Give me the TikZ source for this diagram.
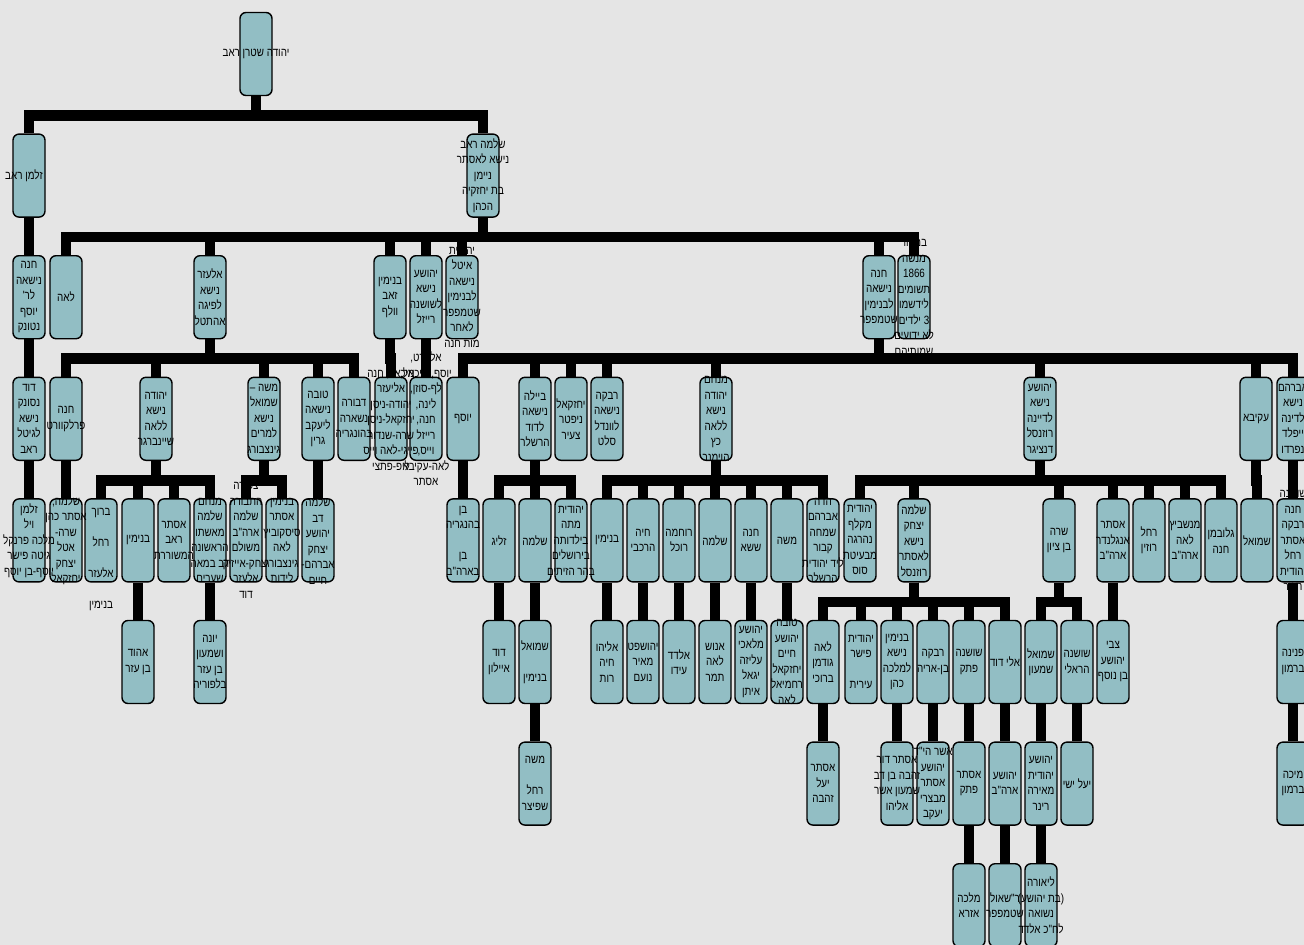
\documentclass[tikz,border=0pt]{standalone}
\usepackage{fontspec}
\newfontfamily\heb[Script=Hebrew,FakeStretch=0.82]{Liberation Sans}
\TeXXeTstate=1
\usetikzlibrary{backgrounds}
\definecolor{bgc}{RGB}{229,229,229}
\definecolor{boxc}{RGB}{146,190,196}
\pgfdeclarelayer{boxes}
\pgfsetlayers{background,boxes,main}
\newcommand{\rl}[1]{\beginR #1\endR}
\newcommand{\pn}[5][]{%
  \begin{pgfonlayer}{boxes}\node[pbox] (#2) at (#3,{54+121.6*#4}) {};\end{pgfonlayer}
  \node[ptext,#1] (#2t) at (#2.center) {#5};}
\begin{document}
\begin{tikzpicture}[x=1pt,y=-1pt,
  pbox/.style={draw=black, line width=1.4pt, fill=boxc, rounded corners=6pt,
    minimum width=32pt, minimum height=83pt, inner sep=0pt},
  ptext/.style={align=center, inner sep=0pt, text=black,
    font=\heb\fontsize{12}{15.5}\selectfont},
  conn/.style={line width=10.5pt, draw=black}]
\useasboundingbox (0,0) rectangle (1304,945);
% row 0
\pn{root}{256}{0}{\rl{יהודה שטרן ראב}}
% row 1
\pn[xshift=-5pt]{zalman}{29}{1}{\rl{זלמן ראב}}
\pn{shlomo}{483}{1}{\rl{שלמה ראב}\\\rl{נישא לאסתר}\\\rl{ניימן}\\\rl{בת יחזקיה}\\\rl{הכהן}}
% row 2
\pn{hanaA}{29}{2}{\rl{חנה}\\\rl{נישאה}\\\rl{לר'}\\\rl{יוסף}\\\rl{נטונק}}
\pn{lea}{66}{2}{\rl{לאה}}
\pn{elazar}{210}{2}{\rl{אלעזר}\\\rl{נישא}\\\rl{לפיגה}\\\rl{אהתטל}}
\pn{binyamin}{390}{2}{\rl{בנימין}\\\rl{זאב}\\\rl{וולף}}
\pn{yehoshua}{426}{2}{\rl{יהושע}\\\rl{נישא}\\\rl{לשושנה}\\\rl{רייזל}}
\pn{yehudit}{462}{2}{\rl{יהודית}\\\rl{איטל}\\\rl{נישאה}\\\rl{לבנימין}\\\rl{שטמפפר}\\\rl{לאחר}\\\rl{מות חנה}}
\pn{hanaB}{879}{2}{\rl{חנה}\\\rl{נישאה}\\\rl{לבנימין}\\\rl{שטמפפר}}
\pn{menashe}{914}{2}{\rl{במקור}\\\rl{מנשה}\\1866\\\rl{תשומים}\\\rl{לידשמו}\\\rl{3 ילדים}\\\rl{לא ידועים}\\\rl{שמותיהם}}
% row 3
\pn{david}{29}{3}{\rl{דוד}\\\rl{נסונק}\\\rl{נישא}\\\rl{לגיטל}\\\rl{ראב}}
\pn{hanaP}{66}{3}{\rl{חנה}\\\rl{פרלקוורט}}
\pn{yehuda}{156}{3}{\rl{יהודה}\\\rl{נישא}\\\rl{ללאה}\\\rl{שיינברגר}}
\pn{moshe}{264}{3}{\rl{משה –}\\\rl{שמואל}\\\rl{נישא}\\\rl{למרים}\\\rl{גינצבורג}}
\pn{tova}{318}{3}{\rl{טובה}\\\rl{נישאה}\\\rl{ליעקב}\\\rl{גרין}}
\pn{dvora}{354}{3}{\rl{דבורה}\\\rl{נשארה}\\\rl{בהונגריה}}
\pn{bchild}{391}{3}{\rl{מיכאל, חנה}\\\rl{אליעזר}\\\rl{יהודה-ניסן}\\\rl{יחזקאל-ניסן}\\\rl{שרה-שנדור}\\\rl{פייגי-לאה וייס}\\\rl{ליפ-פתצי}}
\pn{ychild}{426}{3}{\rl{אלברט,}\\\rl{יוסף, מיכאל,}\\\rl{לף-סוזן,}\\\rl{לינה,}\\\rl{חנה,}\\\rl{רייזל}\\\rl{וייס,}\\\rl{לאה-עקיבא}\\\rl{אסתר}}
\pn{yosef}{463}{3}{\rl{יוסף}}
\pn{beila}{535}{3}{\rl{ביילה}\\\rl{נישאה}\\\rl{לדוד}\\\rl{הרשלר}}
\pn{yehezkel}{571}{3}{\rl{יחזקאל}\\\rl{ניפטר}\\\rl{צעיר}}
\pn{rivka}{607}{3}{\rl{רבקה}\\\rl{נישאה}\\\rl{לוונדל}\\\rl{סלט}}
\pn{menahem}{716}{3}{\rl{מנחם}\\\rl{יהודה}\\\rl{נישא}\\\rl{ללאה}\\\rl{כץ}\\\rl{הוימנר}}
\pn{yehoshuaB}{1040}{3}{\rl{יהושע}\\\rl{נישא}\\\rl{לדיינה}\\\rl{רוזנסל}\\\rl{דנציגר}}
\pn{akiva}{1256}{3}{\rl{עקיבא}}
\pn{avraham}{1293}{3}{\rl{אברהם}\\\rl{נישא}\\\rl{לדינה}\\\rl{ייפלד}\\\rl{נפרדו}}
% row 4
\pn{zalmanV}{29}{4}{\rl{זלמן}\\\rl{ויל}\\\rl{מלכה פרנקל}\\\rl{גיטה פישר}\\\rl{יוסף-בן יוסף}}
\pn{shlomoA}{66}{4}{\rl{שלמה,}\\\rl{אסתר כהן}\\\rl{שרה-}\\\rl{אטל}\\\rl{יצחק}\\\rl{יחזקאל}}
\pn[yshift=-19pt]{baruch}{101}{4}{\rl{ברוך}\\\mbox{}\\\rl{רחל}\\\mbox{}\\\rl{אלעזר}\\\mbox{}\\\rl{בנימין}}
\pn{binyaminB}{138}{4}{\rl{בנימין}}
\pn{esterR}{174}{4}{\rl{אסתר}\\\rl{ראב}\\\rl{המשוררת}}
\pn{menahemS}{210}{4}{\rl{מנחם}\\\rl{שלמה}\\\rl{מאשתו}\\\rl{הראשונה}\\\rl{דב במאה}\\\rl{שערים}}
\pn{tsipora}{246}{4}{\rl{צפורה}\\\rl{התבורה}\\\rl{שלמה}\\\rl{ארה"ב}\\\rl{משולם}\\\rl{יצחק-אייזיק}\\\rl{אלעזר}\\\rl{דוד}}
\pn{binyaminE}{282}{4}{\rl{בנימין}\\\rl{אסתר}\\\rl{סיסקוביץ}\\\rl{לאה}\\\rl{גינצבורג}\\\rl{לידות}}
\pn{shlomoD}{318}{4}{\rl{שלמה}\\\rl{דב}\\\rl{יהושע}\\\rl{יצחק}\\\rl{אברהם-}\\\rl{חיים}}
\pn{benH}{463}{4}{\rl{בן}\\\rl{בהנגריה}\\\mbox{}\\\rl{בן}\\\rl{בארה"ב}}
\pn{zelig}{499}{4}{\rl{זליג}}
\pn{shlomoB}{535}{4}{\rl{שלמה}}
\pn{yehuditM}{571}{4}{\rl{יהודית}\\\rl{מתה}\\\rl{בילדותה}\\\rl{בירושלים}\\\rl{בהר הזיתים}}
\pn{binyaminM}{607}{4}{\rl{בנימין}}
\pn{haya}{643}{4}{\rl{חיה}\\\rl{הרכבי}}
\pn{ruhama}{679}{4}{\rl{רוחמה}\\\rl{רוכל}}
\pn{shlomoM}{715}{4}{\rl{שלמה}}
\pn{hanaS}{751}{4}{\rl{חנה}\\\rl{ששא}}
\pn{mosheM}{787}{4}{\rl{משה}}
\pn{hada}{823}{4}{\rl{הדה}\\\rl{אברהם}\\\rl{שמחה}\\\rl{קבור}\\\rl{ליד יהודית}\\\rl{הרשלר}}
\pn{yehuditK}{860}{4}{\rl{יהודית}\\\rl{מקלף}\\\rl{נהרגה}\\\rl{מבעיטת}\\\rl{סוס}}
\pn{shlomoY}{914}{4}{\rl{שלמה}\\\rl{יצחק}\\\rl{נישא}\\\rl{לאסתר}\\\rl{רוזנסל}}
\pn{sara}{1059}{4}{\rl{שרה}\\\rl{בן ציון}}
\pn{esterE}{1113}{4}{\rl{אסתר}\\\rl{אנגלנדר}\\\rl{ארה"ב}}
\pn{rahel}{1149}{4}{\rl{רחל}\\\rl{רוזין}}
\pn{mishb}{1185}{4}{\rl{מנשביץ}\\\rl{לאה}\\\rl{ארה"ב}}
\pn{glubman}{1221}{4}{\rl{גלובמן}\\\rl{חנה}}
\pn{shmuelA}{1257}{4}{\rl{שמואל}}
\pn{hanaR}{1293}{4}{\rl{שושנה}\\\rl{חנה}\\\rl{רבקה}\\\rl{אסתר}\\\rl{רחל}\\\rl{יהודית}\\\rl{תמר}}
% row 5
\pn{ehud}{138}{5}{\rl{אהוד}\\\rl{בן עזר}}
\pn{yona}{210}{5}{\rl{יונה}\\\rl{ושמעון}\\\rl{בן עזר}\\\rl{בלפוריה}}
\pn{davidA}{499}{5}{\rl{דוד}\\\rl{איילון}}
\pn{shmuelB}{535}{5}{\rl{שמואל}\\\mbox{}\\\rl{בנימין}}
\pn{eliyahu}{607}{5}{\rl{אליהו}\\\rl{חיה}\\\rl{רות}}
\pn{yehoshafat}{643}{5}{\rl{יהושפט}\\\rl{מאיר}\\\rl{נועם}}
\pn{eldad}{679}{5}{\rl{אלדד}\\\rl{עידו}}
\pn{enosh}{715}{5}{\rl{אנוש}\\\rl{לאה}\\\rl{תמר}}
\pn{yehoshuaM}{751}{5}{\rl{יהושע}\\\rl{מלאכי}\\\rl{עליזה}\\\rl{יגאל}\\\rl{איתן}}
\pn{tovaY}{787}{5}{\rl{טובה}\\\rl{יהושע}\\\rl{חיים}\\\rl{יחזקאל}\\\rl{רחמיאל}\\\rl{לאה}}
\pn{leaG}{823}{5}{\rl{לאה}\\\rl{גודמן}\\\rl{ברוכי}}
\pn{yehuditF}{861}{5}{\rl{יהודית}\\\rl{פישר}\\\mbox{}\\\rl{עירית}}
\pn{binyaminN}{897}{5}{\rl{בנימין}\\\rl{נישא}\\\rl{למלכה}\\\rl{כהן}}
\pn{rivkaB}{933}{5}{\rl{רבקה}\\\rl{בן-אריה}}
\pn{shoshanaP}{969}{5}{\rl{שושנה}\\\rl{פתק}}
\pn{eliDavid}{1005}{5}{\rl{אלי דוד}}
\pn{shmuelS}{1041}{5}{\rl{שמואל}\\\rl{שמעון}}
\pn{shoshanaH}{1077}{5}{\rl{שושנה}\\\rl{הראלי}}
\pn{tsvi}{1113}{5}{\rl{צבי}\\\rl{יהושע}\\\rl{בן נוסף}}
\pn{pnina}{1293}{5}{\rl{פנינה}\\\rl{ברמון}}
% row 6
\pn{mosheR}{535}{6}{\rl{משה}\\\mbox{}\\\rl{רחל}\\\rl{שפיצר}}
\pn{esterY}{823}{6}{\rl{אסתר}\\\rl{יעל}\\\rl{זהבה}}
\pn{esterD}{897}{6}{\rl{אסתר דור}\\\rl{זהבה בן דב}\\\rl{שמעון אשר}\\\rl{אליהו}}
\pn{asher}{933}{6}{\rl{אשר הי"ד}\\\rl{יהושע}\\\rl{אסתר}\\\rl{מבצרי}\\\rl{יעקב}}
\pn{esterP}{969}{6}{\rl{אסתר}\\\rl{פתק}}
\pn{yehoshuaA}{1005}{6}{\rl{יהושע}\\\rl{ארה"ב}}
\pn{yehoshuaY}{1041}{6}{\rl{יהושע}\\\rl{יהודית}\\\rl{מאירה}\\\rl{רינר}}
\pn{yael}{1077}{6}{\rl{יעל ישי}}
\pn{micha}{1293}{6}{\rl{מיכה}\\\rl{ברמון}}
% row 7
\pn{malka}{969}{7}{\rl{מלכה}\\\rl{אזרא}}
\pn{rshaul}{1005}{7}{\rl{ר"שאול}\\\rl{שטמפפר}}
\pn{liora}{1041}{7}{\rl{ליאורה}\\\rl{(בת יהושע)}\\\rl{נשואה}\\\rl{לח"כ אלדד}}
% connectors
\begin{pgfonlayer}{background}
\fill[bgc] (0,0) rectangle (1304,945);
\foreach \a/\b in {root/zalman, root/shlomo,
 zalman/hanaA, shlomo/lea, shlomo/elazar, shlomo/binyamin, shlomo/yehoshua, shlomo/yehudit, shlomo/hanaB, shlomo/menashe,
 hanaA/david, elazar/hanaP, elazar/yehuda, elazar/moshe, elazar/tova, elazar/dvora, binyamin/bchild, yehoshua/ychild,
 hanaB/yosef, hanaB/beila, hanaB/yehezkel, hanaB/rivka, hanaB/menahem, hanaB/yehoshuaB, hanaB/akiva, hanaB/avraham,
 david/zalmanV, hanaP/shlomoA, yehuda/baruch, yehuda/binyaminB, yehuda/esterR, yehuda/menahemS, moshe/tsipora, moshe/binyaminE,
 tova/shlomoD, yosef/benH, beila/zelig, beila/shlomoB, beila/yehuditM,
 menahem/binyaminM, menahem/haya, menahem/ruhama, menahem/shlomoM, menahem/hanaS, menahem/mosheM, menahem/hada,
 yehoshuaB/yehuditK, yehoshuaB/shlomoY, yehoshuaB/sara, yehoshuaB/esterE, yehoshuaB/rahel, yehoshuaB/mishb, yehoshuaB/glubman,
 akiva/shmuelA, avraham/hanaR,
 binyaminB/ehud, menahemS/yona, zelig/davidA, shlomoB/shmuelB, binyaminM/eliyahu, haya/yehoshafat, ruhama/eldad, shlomoM/enosh,
 hanaS/yehoshuaM, mosheM/tovaY, shlomoY/leaG, shlomoY/yehuditF, shlomoY/binyaminN, shlomoY/rivkaB, shlomoY/shoshanaP, shlomoY/eliDavid,
 sara/shmuelS, sara/shoshanaH, esterE/tsvi, hanaR/pnina,
 shmuelB/mosheR, leaG/esterY, binyaminN/esterD, rivkaB/asher, shoshanaP/esterP, eliDavid/yehoshuaA, shmuelS/yehoshuaY, shoshanaH/yael, pnina/micha,
 esterP/malka, yehoshuaA/rshaul, yehoshuaY/liora}
 {\draw[conn] (\a.south) -- ++(0,19.3) -| (\b.north);}
\end{pgfonlayer}
\end{tikzpicture}
\end{document}
